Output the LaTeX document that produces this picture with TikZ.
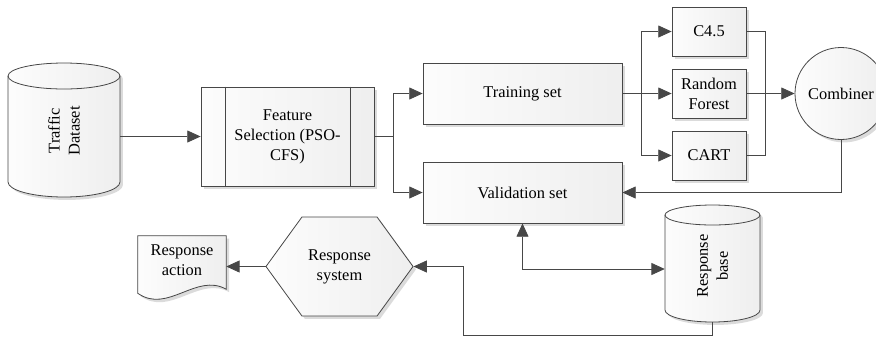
\documentclass[tikz,border=0pt]{standalone}
\usepackage{fontspec}
\setmainfont{Liberation Serif}
\usetikzlibrary{arrows.meta,shapes.geometric,shapes.symbols,shadows,calc,backgrounds}

\tikzset{
    every node/.style={font=\fontsize{12.3}{15}\selectfont},
    line/.style={draw=black!72, line width=0.6pt},
    arr/.style={line, -{Triangle[length=10pt,width=9pt]}},
    arrboth/.style={line, {Triangle[length=10pt,width=9pt]}-{Triangle[length=10pt,width=9pt]}},
    shade/.style={left color=gray!2, right color=gray!13},
    shadowed/.style={drop shadow={shadow xshift=2.2pt,shadow yshift=-2.2pt,fill=gray!28,opacity=1}},
    box/.style={line, shade, shadowed, rectangle, inner sep=0pt, align=center},
    label/.style={align=center, inner sep=0pt},
}

\begin{document}
\begin{tikzpicture}[x=0.75pt,y=-0.75pt]
        \useasboundingbox (0,0) rectangle (876,337);

        \node[label, rotate=90, minimum width=100.5pt, minimum height=84pt] (traffic) at (64,131) {Traffic\\Dataset};
        \node[box, minimum width=129.75pt, minimum height=74.25pt] (feat) at (287.5,136.5) {Feature\\Selection (PSO-\\CFS)};
        \node[box, minimum width=149.25pt, minimum height=45.75pt] (train) at (522.5,93.5) {Training set};
        \node[box, minimum width=149.25pt, minimum height=45.75pt] (valid) at (522.5,192.5) {Validation set};
        \node[box, minimum width=55.5pt, minimum height=36.75pt] (c45) at (709,31.5) {C4.5};
        \node[box, minimum width=55.5pt, minimum height=36.75pt] (rf) at (709,93.5) {Random\\Forest};
        \node[box, minimum width=55.5pt, minimum height=36.75pt] (cart) at (709,155.5) {CART};
        \node[box, circle, minimum size=69pt] (comb) at (841,93.5) {Combiner};
        \node[label, rotate=90, minimum width=84pt, minimum height=71.25pt] (rbase) at (712.5,266) {Response\\base};
        \node[box, signal, signal to=east and west, signal pointer angle=108, minimum width=110.25pt, minimum height=74.25pt] (resp) at (339.5,266.5) {Response\\system};
        \node[label, minimum width=66pt, minimum height=36pt] (act) at (182,260) {Response\\action};

        \begin{pgfonlayer}{background}
            \draw[line, shade, shadowed] (8,76) -- (8,182) arc[start angle=180, end angle=0, x radius=56, y radius=15]
                -- (120,76) arc[start angle=360, end angle=180, x radius=56, y radius=13] -- cycle;
            \draw[line] (8,76) arc[start angle=180, end angle=0, x radius=56, y radius=13];
            \draw[line, shade, shadowed] (665,215) -- (665,310) arc[start angle=180, end angle=0, x radius=47.5, y radius=12]
                -- (760,215) arc[start angle=360, end angle=180, x radius=47.5, y radius=10] -- cycle;
            \draw[line] (665,215) arc[start angle=180, end angle=0, x radius=47.5, y radius=10];
            \draw[line, shade, shadowed] (act.north west) -- (act.north east) -- ($(act.south east)+(0,5)$)
                .. controls ($(act.south east)+(-30,-12)$) and ($(act.south west)+(30,30)$) .. ($(act.south west)+(0,9)$) -- cycle;
        \end{pgfonlayer}

        \draw[line] ([xshift=18.75pt]feat.north west) -- ([xshift=18.75pt]feat.south west);
        \draw[line] ([xshift=-18pt]feat.north east) -- ([xshift=-18pt]feat.south east);

        \coordinate (join) at ($(rf.east)+(19,0)$);
        \coordinate (back) at (463,335);

        \draw[arr] (traffic.south |- feat.west) -- (feat.west);
        \foreach \to in {train,valid}
            \draw[arr] (feat.east) -- ++(19,0) |- (\to.west);
        \foreach \to in {c45,rf,cart}
            \draw[arr] (train.east) -- ++(19,0) |- (\to.west);
        \draw[line] (c45.east) -| (join) |- (cart.east);
        \draw[arr] (rf.east) -- (comb.west);
        \draw[arr] (comb.south) |- (valid.east);
        \draw[arrboth] (valid.south) |- ([yshift=-2.25pt]rbase.north);
        \draw[arr] (rbase.west) |- (back) |- (resp.east);
        \draw[arr] (resp.west) -- (act.east |- resp.west);
\end{tikzpicture}
\end{document}
